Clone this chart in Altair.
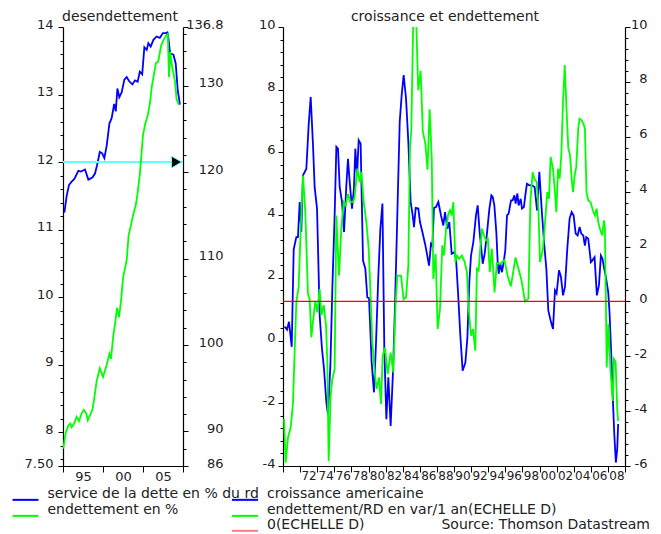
import altair as alt
import pandas as pd

# ---------------- data ----------------
# left panel "desendettement"
ds_year = [1995.17, 1995.46, 1995.75, 1996.08, 1996.42, 1996.92, 1997.25, 1997.75, 1998.17, 1998.67,
           1999.0, 1999.25, 1999.6, 1999.9, 2000.17, 2000.46, 2000.8, 2001.08, 2001.4, 2001.6,
           2001.8, 2002.04, 2002.33, 2002.67, 2002.96, 2003.25, 2003.67, 2004.0, 2004.33, 2004.6,
           2004.9, 2005.17, 2005.46, 2005.67, 2005.96, 2006.3, 2006.7, 2007.1, 2007.5, 2007.9,
           2008.05, 2008.2, 2008.38, 2008.6, 2008.8, 2009.09, 2009.34, 2009.62]
ds_value = [11.25, 11.50, 11.66, 11.71, 11.75, 11.87, 11.86, 11.89, 11.74, 11.77,
            11.83, 11.95, 12.15, 12.13, 12.06, 12.24, 12.57, 12.65, 12.86, 12.75,
            13.09, 12.96, 13.03, 13.22, 13.26, 13.20, 13.15, 13.21, 13.19, 13.34,
            13.30, 13.70, 13.66, 13.76, 13.71, 13.81, 13.86, 13.84, 13.91, 13.91,
            13.92, 13.81, 13.61, 13.60, 13.59, 13.46, 13.07, 12.85]

debt_year = [1995.04, 1995.33, 1995.67, 1995.9, 1996.08, 1996.4, 1996.7, 1997.0, 1997.33, 1997.6,
             1997.9, 1998.1, 1998.4, 1998.7, 1998.9, 1999.2, 1999.6, 2000.0, 2000.46, 2000.8,
             2001.0, 2001.3, 2001.5, 2001.75, 2002.0, 2002.25, 2002.5, 2002.75, 2002.96, 2003.2,
             2003.5, 2003.8, 2004.1, 2004.3, 2004.6, 2004.8, 2005.0, 2005.25, 2005.6, 2005.9,
             2006.1, 2006.4, 2006.6, 2006.9, 2007.25, 2007.5, 2007.96, 2008.1, 2008.25, 2008.4,
             2008.6, 2008.8, 2009.0, 2009.2, 2009.5]
debt_value = [88.0, 89.8, 90.7, 90.9, 90.5, 90.9, 91.7, 91.2, 92.1, 92.5,
              92.1, 91.3, 91.9, 92.6, 93.8, 95.8, 97.3, 96.3, 97.7, 99.0,
              98.4, 101.2, 102.4, 104.3, 103.2, 105.1, 107.7, 108.9, 109.8, 112.7,
              113.9, 115.2, 116.2, 117.4, 119.7, 122.0, 124.3, 125.5, 126.6, 128.2,
              129.9, 131.5, 132.6, 132.8, 134.6, 135.2, 135.9, 136.0, 131.0, 133.9,
              132.4, 131.5, 130.5, 128.4, 127.8]

# right panel "croissance et endettement"
gdp_year = [1970.19, 1970.47, 1970.7, 1971.02, 1971.25, 1971.56, 1971.75, 1971.95, 1972.14, 1972.34,
            1972.73, 1973.0, 1973.24, 1973.51, 1973.7, 1973.98, 1974.29, 1974.56, 1974.8, 1975.07,
            1975.26, 1975.54, 1975.77, 1976.04, 1976.24, 1976.43, 1976.63, 1976.9, 1977.14, 1977.41,
            1977.6, 1977.8, 1978.07, 1978.3, 1978.46, 1978.66, 1978.85, 1979.08, 1979.36, 1979.63,
            1979.86, 1980.06, 1980.37, 1980.64, 1980.88, 1981.15, 1981.39, 1981.63, 1981.85, 1982.09,
            1982.32, 1982.59, 1982.87, 1983.1, 1983.41, 1983.65, 1983.88, 1984.11, 1984.39, 1984.66,
            1984.93, 1985.17, 1985.32, 1985.52, 1985.83, 1986.02, 1986.3, 1986.61, 1986.8, 1987.08,
            1987.31, 1987.47, 1987.66, 1987.9, 1988.17, 1988.48, 1988.75, 1988.95, 1989.22, 1989.45,
            1989.73, 1990.04, 1990.24, 1990.47, 1990.74, 1991.01, 1991.33, 1991.56, 1991.79, 1991.99,
            1992.26, 1992.57, 1992.77, 1993.0, 1993.16, 1993.36, 1993.59, 1993.87, 1994.14, 1994.37,
            1994.53, 1994.72, 1994.95, 1995.11, 1995.22, 1995.42, 1995.61, 1995.81, 1996.0, 1996.2,
            1996.39, 1996.67, 1996.86, 1997.06, 1997.21, 1997.41, 1997.56, 1997.8, 1997.95, 1998.18,
            1998.34, 1998.53, 1998.81, 1999.12, 1999.43, 1999.71, 1999.98, 2000.25, 2000.53, 2000.8,
            2001.03, 2001.3, 2001.58, 2001.81, 2002.0, 2002.28, 2002.51, 2002.75, 2002.98, 2003.25,
            2003.52, 2003.76, 2003.99, 2004.23, 2004.46, 2004.69, 2004.89, 2005.12, 2005.31, 2005.47,
            2005.7, 2006.01, 2006.17, 2006.44, 2006.71, 2006.95, 2007.18, 2007.37, 2007.57, 2007.8,
            2008.04, 2008.19, 2008.43, 2008.58, 2008.74, 2008.93, 2009.09, 2009.2]
gdp_value = [0.45, 0.35, 0.6, -0.2, 2.9, 3.3, 3.3, 4.42, 3.46, 5.27,
             5.48, 6.87, 7.77, 6.23, 4.90, 4.21, 0.80, -0.27, -0.91, -1.97,
             -2.35, -0.80, 1.65, 3.99, 6.18, 6.12, 4.90, 4.42, 3.46, 4.95,
             5.80, 5.06, 4.21, 4.85, 6.12, 5.27, 6.39, 6.28, 2.55, 2.29,
             1.38, 1.35, -0.70, -1.65, -0.06, 2.07, 3.57, 4.37, -0.27, -2.51,
             -1.17, -2.72, -0.96, 1.12, 4.42, 6.97, 7.83, 8.47, 7.72, 6.33,
             4.42, 3.99, 3.62, 4.23, 4.21, 3.78, 3.46, 3.09, 2.82, 2.39,
             3.09, 3.03, 4.23, 4.26, 4.42, 3.99, 3.67, 4.10, 3.57, 3.78,
             2.77, 2.82, 2.6, 1.54, 0.16, -0.96, -0.70, 0.06, 1.86, 2.71,
             3.14, 3.99, 4.31, 3.46, 3.03, 2.45, 2.77, 3.46, 4.21, 4.63,
             4.58, 4.31, 3.46, 2.50, 2.13, 2.45, 2.18, 2.50, 2.88, 3.99,
             4.05, 4.47, 4.47, 4.63, 4.37, 4.69, 4.31, 4.52, 4.21, 4.26,
             4.63, 5.0, 4.95, 4.95, 4.9, 4.15, 5.38, 4.21, 3.14, 2.29,
             0.96, 0.64, 0.37, 1.60, 1.50, 2.24, 2.03, 1.44, 1.71, 2.93,
             3.89, 4.10, 3.99, 3.41, 3.35, 3.62, 3.41, 3.35, 3.03, 3.30,
             3.25, 2.50, 2.55, 2.66, 1.44, 1.76, 2.71, 2.61, 2.29, 1.97,
             1.54, 0.90, -0.70, -1.87, -2.94, -3.89, -3.46, -2.66]

credit_year = [1970.12, 1970.31, 1970.58, 1970.9, 1971.17, 1971.37, 1971.56, 1971.83, 1972.07, 1972.34,
               1972.61, 1972.92, 1973.12, 1973.31, 1973.59, 1973.78, 1974.01, 1974.29, 1974.48, 1974.76,
               1975.03, 1975.19, 1975.34, 1975.57, 1975.77, 1976.04, 1976.24, 1976.55, 1976.82, 1977.1,
               1977.33, 1977.6, 1977.88, 1978.19, 1978.38, 1978.69, 1978.97, 1979.16, 1979.44, 1979.75,
               1980.02, 1980.18, 1980.45, 1980.76, 1980.95, 1981.23, 1981.46, 1981.66, 1981.93, 1982.24,
               1982.59, 1982.9, 1983.18, 1983.37, 1983.8, 1984.11, 1984.39, 1984.66, 1984.85, 1985.0,
               1985.25, 1985.55, 1985.82, 1986.1, 1986.35, 1986.65, 1986.9, 1987.15, 1987.4, 1987.58,
               1987.85, 1988.09, 1988.36, 1988.63, 1988.83, 1989.07, 1989.34, 1989.53, 1989.73, 1989.92,
               1990.16, 1990.35, 1990.62, 1990.93, 1991.25, 1991.52, 1991.72, 1991.99, 1992.22, 1992.49,
               1992.68, 1992.88, 1993.07, 1993.27, 1993.5, 1993.73, 1993.96, 1994.19, 1994.43, 1994.74,
               1995.01, 1995.4, 1995.9, 1996.3, 1996.65, 1997.2, 1997.9, 1998.3, 1998.7, 1998.93,
               1999.2, 1999.4, 1999.67, 1999.87, 2000.06, 2000.41, 2000.65, 2000.92, 2001.11, 2001.3,
               2001.58, 2001.81, 2001.97, 2002.17, 2002.36, 2002.55, 2002.75, 2002.95, 2003.14, 2003.37,
               2003.57, 2003.76, 2003.92, 2004.11, 2004.3, 2004.53, 2004.69, 2004.93, 2005.12, 2005.31,
               2005.5, 2005.7, 2005.97, 2006.24, 2006.48, 2006.68, 2006.87, 2007.07, 2007.34, 2007.53,
               2007.65, 2007.86, 2008.05, 2008.3, 2008.56, 2008.71, 2008.9, 2009.1, 2009.2]
credit_value = [-4.29, -5.88, -4.97, -4.6, -3.69, -1.74, -0.03, 0.54, 2.65, 4.59,
                3.25, 0.27, 0.08, -1.31, -0.51, 0.02, -0.4, 0.45, -0.51, -0.14,
                -0.87, -2.23, -5.82, -3.45, -2.83, -2.47, 3.13, 0.94, 2.65, 3.62,
                3.50, 3.92, 3.62, 3.62, 3.80, 4.84, 4.35, 4.72, 3.62, 2.89,
                1.92, 0.70, -1.49, -2.71, -3.19, -2.77, -3.75, -1.99, -1.69, -2.65,
                -1.87, -2.59, -0.03, 0.94, 0.94, 0.08, 0.15, 1.31, 5.57, 6.2,
                10.5, 10.5, 7.7, 8.4, 6.2, 5.75, 4.8, 7.0, 5.2, 0.82,
                1.73, -1.01, -0.28, 2.04, 1.67, 2.65, 3.19, 3.32, 3.13, 3.62,
                1.43, 1.67, 1.55, 1.67, 1.43, 1.06, -0.28, -1.25, -1.01, -1.80,
                1.19, 1.12, 1.92, 2.65, 2.41, 2.22, 2.28, 1.06, 1.92, 0.33,
                1.4, 1.37, 1.5, 0.9, 0.55, 1.6, 0.76, 0.0, 0.1, 3.62,
                4.71, 4.47, 4.35, 3.38, 1.43, 1.92, 2.89, 3.98, 3.74, 5.26,
                4.84, 3.98, 3.25, 4.84, 4.47, 5.33, 7.27, 8.61, 7.15, 5.57,
                5.33, 4.47, 3.98, 4.59, 4.9, 6.3, 6.66, 6.6, 6.48, 6.3,
                3.98, 3.68, 3.62, 3.32, 3.13, 3.38, 2.89, 2.65, 2.40, 2.95,
                2.65, -2.41, -0.82, -2.5, -3.63, -2.1, -2.2, -4.0, -4.36]

deleveraging_level = 12.0
arrow_year = 2009.2
zero_level = 0.0

left_years = [1995, 2010]
right_years = [1970, 2010]
left_ticks = [1995, 2000, 2005, 2010]
right_ticks = list(range(1970, 2011, 2))

ds_name = "service de la dette en % du rd"
debt_name = "endettement en %"
gdp_name = "croissance americaine"
credit_name = "endettement/RD en var/1 an(ECHELLE D)"
zero_name = "0(ECHELLE D)"

BLUE = "#0000ff"
GREEN = "#00ff00"
RED = "#ff0000"
CYAN = "#66ffff"
FONT = "DejaVu Sans"
INK = "#222222"

# ---------------- layout ----------------
W, H = 562, 439
LEFT_RANGE = [0, 120]
RIGHT_RANGE = [220, 562]

left_ds = pd.DataFrame({"year": ds_year, "value": ds_value, "series": ds_name})
left_debt = pd.DataFrame({"year": debt_year, "value": debt_value, "series": debt_name})
right_gdp = pd.DataFrame({"year": gdp_year, "value": gdp_value, "series": gdp_name})
right_credit = pd.DataFrame({"year": credit_year, "value": credit_value, "series": credit_name})
zero_df = pd.DataFrame({"start": [right_years[0]], "end": [right_years[1]], "level": [zero_level], "series": [zero_name]})
cyan_df = pd.DataFrame({"year": [left_years[0]], "end": [left_years[1]], "value": [deleveraging_level]})
arrow_df = pd.DataFrame({"year": [arrow_year], "value": [deleveraging_level]})


def legend(x, y, opacity=1.0):
    return alt.Legend(orient="none", legendX=x, legendY=y, title=None,
                      symbolType="M-1,0.45L1,0.45", symbolSize=676, symbolStrokeWidth=2,
                      symbolOpacity=opacity, labelFont=FONT, labelFontSize=14,
                      labelColor=INK, labelOffset=8, padding=0, labelLimit=0)


def color(name, col, leg):
    return alt.Color("series:N", scale=alt.Scale(domain=[name], range=[col]), legend=leg)


def ticksize(test, major=5, minor=3):
    return {"condition": {"test": test, "value": major}, "value": minor}


# y tick values (major + minor)
ll_vals = [7.5] + [round(7.6 + 0.2 * k, 1) for k in range(33)]
lr_vals = [86 + 2 * k for k in range(26)] + [136.8]
rl_vals = [round(-4 + 0.4 * k, 1) for k in range(36)]
rr_vals = [round(-6 + 0.4 * k, 1) for k in range(41)]

ll_major = "datum.value == 7.5 || abs(datum.value - round(datum.value)) < 0.001"
lr_major = "datum.value == 86 || datum.value == 136.8 || datum.value % 10 == 0"
r_major = "abs(datum.value / 2 - round(datum.value / 2)) < 0.001"

axis_ll = alt.Axis(orient="left", values=ll_vals, tickSize=ticksize(ll_major),
                   labelExpr="datum.value == 7.5 ? '7.50' : (abs(datum.value - round(datum.value)) < 0.001 ? toString(datum.value) : '')",
                   labelPadding=5, labelOffset=-3, title=None)
axis_lr = alt.Axis(orient="right", offset=-(W - LEFT_RANGE[1]), values=lr_vals, tickSize=ticksize(lr_major),
                   labelExpr="(" + lr_major + ") ? toString(datum.value) : ''",
                   labelAlign="right", labelPadding=35, labelOffset=-3, title=None)
axis_rl = alt.Axis(orient="left", offset=-RIGHT_RANGE[0], values=rl_vals, tickSize=ticksize(r_major),
                   labelExpr="(" + r_major + ") ? toString(datum.value) : ''",
                   labelPadding=3, labelOffset=-3, title=None)
axis_rr = alt.Axis(orient="right", values=rr_vals, tickSize=ticksize(r_major),
                   labelExpr="(" + r_major + ") ? toString(datum.value) : ''",
                   labelAlign="right", labelPadding=17, labelOffset=-3, title=None)

axis_lx = alt.Axis(orient="bottom", values=left_ticks, tickSize=6, labelPadding=-2,
                   labelExpr="datum.value < 2010 ? substring(toString(datum.value), 2, 4) : ''",
                   labelOffset=20, labelFlush=False, labelOverlap=False, title=None)
axis_rx = alt.Axis(orient="bottom", values=right_ticks, tickSize=6, labelPadding=-2, labelFontSize=12,
                   labelExpr="(datum.value > 1970 && datum.value < 2010) ? substring(toString(datum.value), 2, 4) : ''",
                   labelOffset=8.5, labelFlush=False, labelOverlap=False, title=None)

lx_scale = alt.Scale(domain=left_years, range=LEFT_RANGE, nice=False, zero=False)
rx_scale = alt.Scale(domain=right_years, range=RIGHT_RANGE, nice=False, zero=False)
ll_scale = alt.Scale(domain=[7.5, 14], nice=False, zero=False)
lr_scale = alt.Scale(domain=[86, 136.8], nice=False, zero=False)
rl_scale = alt.Scale(domain=[-4, 10], nice=False, zero=False)
rr_scale = alt.Scale(domain=[-6, 10], nice=False, zero=False)

# A: left panel, left scale (axes repeated on every sub-layer so they merge)
lx_enc = alt.X("year:Q", scale=lx_scale, axis=axis_lx)
ll_enc = alt.Y("value:Q", scale=ll_scale, axis=axis_ll)
blue_left = alt.Chart(left_ds).mark_line(strokeWidth=1.8).encode(
    x=lx_enc, y=ll_enc,
    color=color(ds_name, BLUE, legend(-51.5, 453)),
)
cyan_rule = alt.Chart(cyan_df).mark_rule(color=CYAN, strokeWidth=2).encode(
    x=lx_enc, x2="end:Q", y=ll_enc,
)
arrow = alt.Chart(arrow_df).mark_point(shape="triangle-right", filled=True, fill="black",
                                       stroke=CYAN, strokeWidth=1, size=140, opacity=1).encode(
    x=lx_enc, y=ll_enc,
)
A = alt.layer(blue_left, cyan_rule, arrow)

# B: left panel, right scale
B = alt.Chart(left_debt).mark_line(strokeWidth=1.8).encode(
    x=alt.X("year:Q", scale=lx_scale, axis=None),
    y=alt.Y("value:Q", scale=lr_scale, axis=axis_lr),
    color=color(debt_name, GREEN, legend(-51.5, 469)),
)

# C: right panel, left scale
C = alt.Chart(right_gdp).mark_line(strokeWidth=1.8, clip=True).encode(
    x=alt.X("year:Q", scale=rx_scale, axis=axis_rx),
    y=alt.Y("value:Q", scale=rl_scale, axis=axis_rl),
    color=color(gdp_name, BLUE, legend(168, 453)),
)

# D: right panel, right scale
D = alt.Chart(right_credit).mark_line(strokeWidth=1.8, clip=True).encode(
    x=alt.X("year:Q", scale=rx_scale, axis=None),
    y=alt.Y("value:Q", scale=rr_scale, axis=axis_rr),
    color=color(credit_name, GREEN, legend(168, 469)),
)

# E: zero line on the right scale
E = alt.Chart(zero_df).mark_rule(strokeWidth=1.2).encode(
    x=alt.X("start:Q", scale=rx_scale, axis=None),
    x2="end:Q",
    y=alt.Y("level:Q", scale=rr_scale, axis=None),
    color=color(zero_name, RED, legend(168, 484, 0.5)),
)

# F: panel titles and source
one = alt.Data(values=[{}])
t_left = alt.Chart(one).mark_text(text="desendettement", font=FONT, fontSize=14, color=INK,
                                  align="center", baseline="middle").encode(
    x=alt.value(57), y=alt.value(-10))
t_right = alt.Chart(one).mark_text(text="croissance et endettement", font=FONT, fontSize=14, color=INK,
                                   align="center", baseline="middle").encode(
    x=alt.value(382), y=alt.value(-10))
t_source = alt.Chart(one).mark_text(text="Source: Thomson Datastream", font=FONT, fontSize=14, color=INK,
                                    align="right", baseline="middle").encode(
    x=alt.value(587), y=alt.value(498))
F = alt.layer(t_left, t_right, t_source)

chart = (
    alt.layer(A, B, C, D, E, F)
    .resolve_scale(x="independent", y="independent", color="independent")
    .resolve_axis(x="independent", y="independent")
    .resolve_legend(color="independent")
    .properties(width=W, height=H, autosize=alt.AutoSizeParams(type="none"),
                padding={"left": 55, "top": 19, "right": 28, "bottom": 70})
    .configure_view(stroke=None)
    .configure_axis(domainColor="#000000", tickColor="#000000", labelColor=INK, labelFont=FONT,
                    labelFontSize=13, grid=False, domainWidth=1.2, tickWidth=1)
)

chart.save("out.html", embed_options={"renderer": "svg", "actions": False})
